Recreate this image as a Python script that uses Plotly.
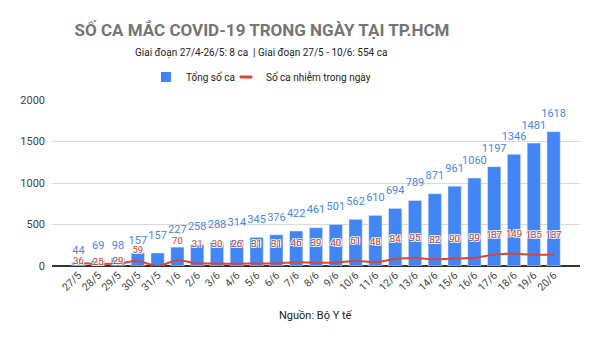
import plotly.graph_objects as go
import numpy as np

# ---- data ----
dates = ["27/5", "28/5", "29/5", "30/5", "31/5", "1/6", "2/6", "3/6", "4/6", "5/6",
         "6/6", "7/6", "8/6", "9/6", "10/6", "11/6", "12/6", "13/6", "14/6", "15/6",
         "16/6", "17/6", "18/6", "19/6", "20/6"]
total_cases = [44, 69, 98, 157, 157, 227, 258, 288, 314, 345, 376, 422, 461, 501, 562,
               610, 694, 789, 871, 961, 1060, 1197, 1346, 1481, 1618]
daily_cases = [36, 25, 29, 59, 0, 70, 31, 30, 26, 31, 31, 46, 39, 40, 61, 48, 84, 95,
               82, 90, 99, 137, 149, 135, 137]
y_ticks = [0, 500, 1000, 1500, 2000]

title = "SỐ CA MẮC COVID-19 TRONG NGÀY TẠI TP.HCM"
subtitle = "Giai đoạn 27/4-26/5: 8 ca  | Giai đoạn 27/5 - 10/6: 554 ca"
source = "Nguồn: Bộ Y tế"
name_total = "Tổng số ca"
name_daily = "Số ca nhiễm trong ngày"

# ---- style / layout ----
W, H = 600, 338
ML, MR, MT, MB = 52, 20, 100, 72
plot_h = H - MT - MB
plot_w = W - ML - MR
ymax = 2000
u_per_px = ymax / plot_h

blue = "#4285f4"
red = "#db4437"
blue_txt = "#4a86e8"
red_txt = "#cc4125"

# label offsets in pixels above the value
blue_off_px = [11, 14, 12, 12] + [17] * 21
red_off_px = [1, 1, 2, 10] + [0] + [19] * 20

tot = np.array(total_cases, dtype=float)
day = np.array(daily_cases, dtype=float)
blue_lbl_y = tot + np.array(blue_off_px) * u_per_px
red_lbl_y = day + np.array(red_off_px) * u_per_px
red_text = [str(v) if v > 0 else "" for v in daily_cases]

fig = go.Figure()
fig.add_trace(go.Bar(x=dates, y=total_cases, marker_color=blue, showlegend=False,
                     hoverinfo="skip"))
fig.add_trace(go.Scatter(x=dates, y=daily_cases, mode="lines", line=dict(color=red, width=2,
                         shape="spline", smoothing=0.8), showlegend=False))
fig.add_trace(go.Scatter(x=dates, y=blue_lbl_y.tolist(), mode="text",
                         text=[str(v) for v in total_cases], textposition="middle center",
                         textfont=dict(family="Roboto", size=11, color=blue_txt),
                         showlegend=False, hoverinfo="skip", cliponaxis=False))
fig.add_trace(go.Scatter(x=dates, y=red_lbl_y.tolist(), mode="text",
                         text=red_text, textposition="middle center",
                         textfont=dict(family="Roboto", size=9.5, color=red_txt,
                                       shadow="-1px -1px 0 #fff, 1px -1px 0 #fff, -1px 1px 0 #fff, 1px 1px 0 #fff"),
                         showlegend=False, hoverinfo="skip", cliponaxis=False))
# legend entries
fig.add_trace(go.Scatter(x=[None], y=[None], mode="markers", name=name_total, legend="legend",
                         marker=dict(symbol="square", size=10, color=blue)))
fig.add_trace(go.Scatter(x=[None], y=[None], mode="markers", name=name_daily, legend="legend2",
                         marker=dict(symbol="line-ew-open", size=9,
                                     line=dict(color=red, width=3), color=red)))

leg_common = dict(orientation="h", xanchor="left", y=1 + (MT - 77) / plot_h, yanchor="middle",
                  font=dict(family="Roboto", size=10, color="#222"),
                  bgcolor="rgba(0,0,0,0)", itemwidth=30)

fig.update_layout(
    width=W, height=H,
    margin=dict(l=ML, r=MR, t=MT, b=MB),
    paper_bgcolor="white", plot_bgcolor="white",
    bargap=0.33,
    font=dict(family="Roboto", color="#222"),
    title=dict(text="<b>" + title + "</b>", x=262 / W, xref="container", xanchor="center",
               y=1 - 30 / H, yanchor="middle",
               font=dict(family="Roboto", size=17, color="#757575")),
    legend=dict(x=(146 - ML) / plot_w, **leg_common),
    legend2=dict(x=(226 - ML) / plot_w, **leg_common),
    annotations=[
        dict(text=subtitle, xref="paper", yref="paper",
             x=(261 - ML) / plot_w, y=1 + (MT - 53) / plot_h,
             xanchor="center", yanchor="middle", showarrow=False,
             font=dict(family="Roboto", size=10, color="#222")),
        dict(text=source, xref="paper", yref="paper",
             x=(316 - ML) / plot_w, y=-(315 - (H - MB)) / plot_h,
             xanchor="center", yanchor="middle", showarrow=False,
             font=dict(family="Roboto", size=11, color="#222")),
    ],
    xaxis=dict(type="category", tickangle=-45, tickfont=dict(family="Roboto", size=10.5, color="#444"),
               showgrid=False, showline=False, ticks=""),
    yaxis=dict(range=[0, ymax], tickvals=y_ticks, tickfont=dict(family="Roboto", size=11, color="#444"),
               gridcolor="#d9d9d9", gridwidth=1, zeroline=True, zerolinecolor="#333",
               zerolinewidth=1.5, ticks="", showline=False, ticklabelstandoff=6),
)

fig.write_html("out.html")
